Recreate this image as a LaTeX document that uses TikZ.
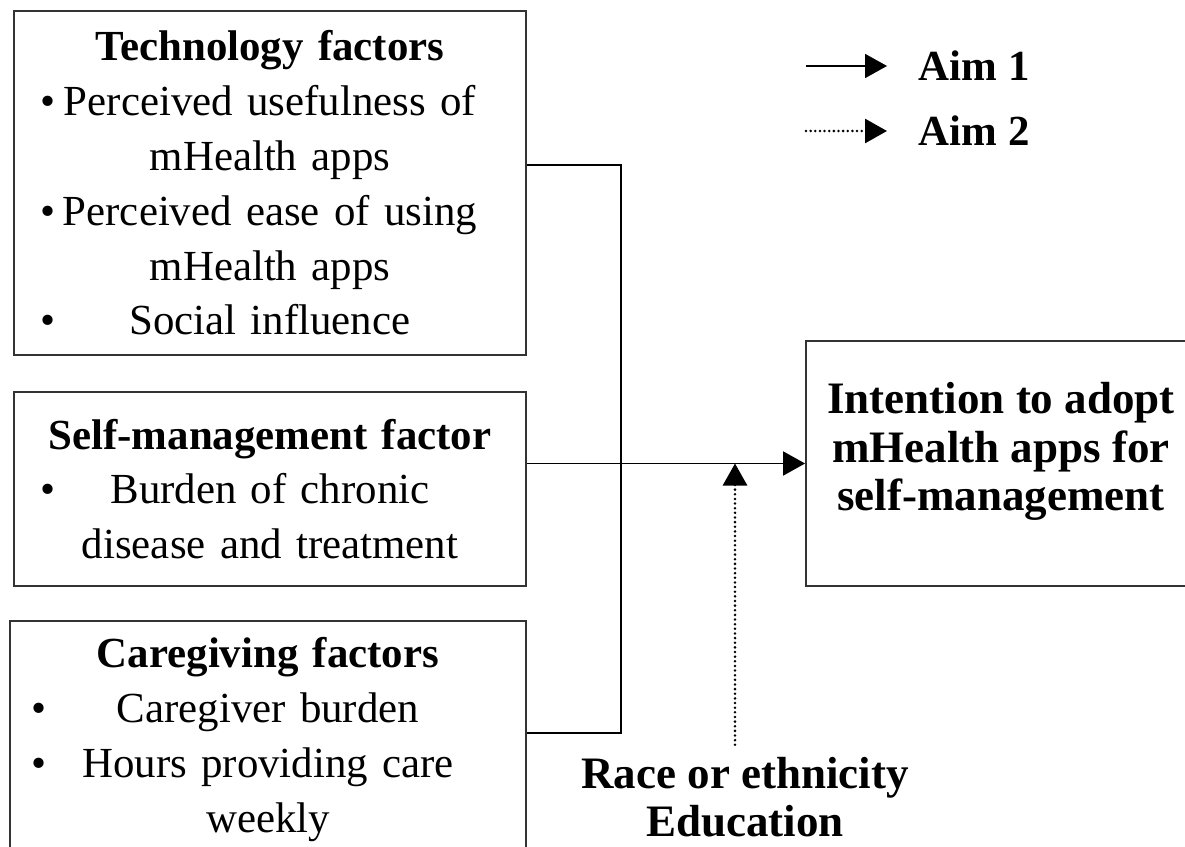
\documentclass[tikz,border=0pt]{standalone}
\usepackage{fontspec}
\setmainfont{Liberation Serif}
\usetikzlibrary{arrows.meta, positioning}
% bullet at the left edge, item text centred over the full line
\newcommand{\itm}[1]{\makebox[\linewidth]{\rlap{\textbullet}\hfill #1\hfill}}
\tikzset{
  every picture/.style={line width=1.3pt},
  box/.style={draw=black!80, align=center, inner sep=0pt, font=\fontsize{30.5}{39}\selectfont},
  head/.style={font=\bfseries\fontsize{32}{34.5}\selectfont, align=center, inner sep=0pt},
  key/.style={anchor=west, inner xsep=0.775cm, inner ysep=0pt, font=\bfseries\fontsize{30.5}{36}\selectfont},
  arrow/.style={-{Triangle[length=0.55cm, width=0.6cm]}, draw=black},
  dotarrow/.style={arrow, line width=2pt, line cap=round, dash pattern=on 0pt off 3.3pt},
}

\begin{document}
\begin{tikzpicture}
  \useasboundingbox (0,0) rectangle (29.625,21.15);
  % factor boxes
  \node[box, text width=11.5cm, minimum width=12.8cm, minimum height=8.6cm] (tech) at (6.75,16.575)
    {\textbf{Technology factors}\\ \itm{Perceived usefulness of}\\ mHealth apps\\
     \itm{Perceived ease of using}\\ mHealth apps\\ \itm{Social influence}};
  \node[box, text width=11.5cm, minimum width=12.8cm, minimum height=4.85cm] (self) at (6.75,8.925)
    {\textbf{Self-management factor}\\ \itm{Burden of chronic}\\ disease and treatment};
  \node[box, text width=11.8cm, minimum width=12.9cm, minimum height=5.925cm] (care) at (6.7,2.6625)
    {\textbf{Caregiving factors}\\ \itm{Caregiver burden}\\ \itm{Hours providing care}\\ weekly};
  % outcome (strut on the last line lifts the text a little)
  \node[box, head, minimum width=9.75cm, minimum height=6.125cm] (intent) at (25.025,9.5625)
    {Intention to adopt\\mHealth apps for\\self-management\rule[-0.85cm]{0pt}{0pt}};
  % aim 1 paths
  \coordinate (jt) at (15.525,17.025);
  \coordinate (jc) at (15.525,2.825);
  \draw (tech.east |- jt) -- (jt) -- (jc) -- (care.east |- jc);
  \draw[arrow] (self.east |- intent.west) -- (intent.west);
  % aim 2 moderators
  \node[head, anchor=north] (mod) at (18.625,2.25) {Race or ethnicity\\Education};
  \coordinate (mtop) at ([shift={(-0.25,0.28)}]mod.north);
  \draw[dotarrow] (mtop) -- (mtop |- intent.west);
  % key
  \node[key] (aim1) at (22.175,19.5) {Aim 1};
  \node[key] (aim2) at (22.175,17.875) {Aim 2};
  \coordinate (k1) at (20.15,19.5);
  \coordinate (k2) at (20.15,17.875);
  \draw[arrow] (k1) -- (aim1);
  \draw[dotarrow] (k2) -- (aim2);
\end{tikzpicture}
\end{document}
